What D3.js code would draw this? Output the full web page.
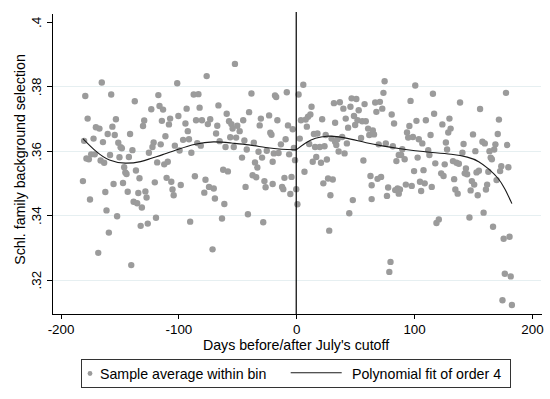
<!DOCTYPE html>
<html lang="en">
<head>
<meta charset="utf-8">
<title>Schl. family background selection</title>
<script src="https://cdn.jsdelivr.net/npm/d3@7"></script>
<style>
  body { margin: 0; background: #fff; }
  svg { display: block; font-family: "Liberation Sans", Arial, sans-serif; }
  .axis path, .axis line { fill: none; stroke: #000; shape-rendering: crispEdges; }
  .axis text { font-size: 13.4px; fill: #000; }
</style>
</head>
<body>
<script>

// bin averages (day relative to cutoff, sample mean)
var binDays = [
  -165,-179,-157,-137,-177,-153,-129,-170,-167,-156,-130,-160,-154,-141,-172,-180,-164,-151,-149,-148,
  -139,-174,-171,-178,-176,-158,-150,-142,-166,-163,-146,-136,-145,-144,-133,-181,-155,-147,-162,-143,
  -134,-128,-127,-138,-135,-131,-175,-161,-152,-132,-159,-168,-140,
  -101,-76,-117,-87,-83,-123,-116,-113,-93,-82,-66,-114,-107,-100,-108,-94,-85,-80,-73,-75,
  -67,-92,-68,-111,-121,-122,-115,-96,-103,-91,-84,-81,-65,-125,-99,-89,-118,-112,-109,-110,
  -86,-77,-106,-120,-98,-74,-70,-105,-104,-78,-69,-126,-119,-90,-71,
  -52,-38,-18,-17,-8,-59,-57,-55,-50,-40,-45,-30,-23,-16,-31,-48,-54,-56,-51,-44,
  -36,-22,-21,-7,-3,-9,-13,-60,-53,-42,-32,-25,-19,-15,-6,-2,-46,-29,-1,-35,
  -33,-20,-62,-58,-37,-34,-27,-26,-20,-10,-4,-12,-11,0,-5,-43,-61,1,-63,-41,-28,
  6,2,13,32,37,47,51,58,40,46,53,10,12,8,4,22,33,42,49,52,
  56,59,50,44,9,61,15,18,25,3,62,11,30,33,35,39,43,55,16,20,
  24,34,36,41,17,14,21,26,57,7,27,31,23,63,29,48,45,28,
  75,74,101,116,97,67,71,73,68,81,117,83,65,66,96,102,110,94,95,99,
  104,107,114,70,76,82,90,112,113,89,87,92,85,103,118,100,108,72,69,64,
  78,86,88,84,87,93,98,105,109,106,115,64,77,119,121,80,79,
  178,139,156,130,124,131,129,172,150,171,127,128,142,158,160,169,179,152,141,164,
  168,165,166,126,133,136,138,144,145,143,155,153,174,180,173,163,123,125,134,149,
  151,162,161,170,135,137,148,154,147,159,167,176,181,177,182,175,183
];
var binMeans = [
  .3812,.3770,.3775,.3754,.3700,.3698,.3694,.3673,.3669,.3675,.3677,.3652,.3649,.3652,.3638,.3631,.3627,.3625,.3611,.3608,
  .3602,.3589,.3589,.3576,.3574,.3587,.3580,.3581,.3570,.3563,.3549,.3539,.3533,.3528,.3515,.3506,.3497,.3500,.3472,.3473,
  .3469,.3474,.3455,.3442,.3437,.3424,.3449,.3415,.3397,.3367,.3346,.3283,.3245,
  .3810,.3832,.3773,.3775,.3776,.3729,.3739,.3728,.3731,.3734,.3741,.3693,.3700,.3708,.3682,.3685,.3695,.3695,.3698,.3683,
  .3678,.3661,.3654,.3645,.3626,.3612,.3620,.3634,.3616,.3636,.3624,.3616,.3630,.3594,.3601,.3594,.3564,.3558,.3566,.3516,
  .3521,.3510,.3504,.3502,.3494,.3488,.3483,.3480,.3462,.3470,.3452,.3374,.3392,.3380,.3294,
  .3870,.3778,.3772,.3767,.3782,.3715,.3692,.3683,.3678,.3720,.3695,.3700,.3710,.3695,.3679,.3661,.3669,.3642,.3641,.3632,
  .3625,.3656,.3650,.3679,.3667,.3636,.3620,.3612,.3612,.3604,.3597,.3600,.3592,.3593,.3589,.3609,.3579,.3579,.3571,.3564,
  .3548,.3566,.3541,.3536,.3524,.3518,.3506,.3487,.3497,.3516,.3519,.3488,.3481,.3481,.3466,.3488,.3435,.3434,.3390,.3403,.3378,
  .3805,.3775,.3737,.3748,.3751,.3763,.3761,.3745,.3731,.3737,.3726,.3706,.3713,.3697,.3695,.3698,.3687,.3700,.3708,.3695,
  .3692,.3692,.3680,.3672,.3675,.3669,.3652,.3654,.3649,.3638,.3649,.3621,.3638,.3628,.3636,.3643,.3623,.3640,.3612,.3612,
  .3614,.3618,.3598,.3592,.3581,.3566,.3563,.3573,.3570,.3535,.3514,.3511,.3499,.3522,.3462,.3447,.3406,.3352,
  .3816,.3780,.3803,.3777,.3755,.3750,.3752,.3731,.3721,.3713,.3715,.3685,.3663,.3651,.3677,.3693,.3695,.3657,.3641,.3643,
  .3636,.3623,.3649,.3620,.3623,.3614,.3605,.3602,.3587,.3587,.3587,.3574,.3568,.3579,.3561,.3537,.3540,.3519,.3513,.3493,
  .3486,.3483,.3480,.3478,.3467,.3495,.3491,.3504,.3499,.3475,.3488,.3450,.3460,.3376,.3387,.3255,.3224,
  .3780,.3750,.3730,.3700,.3682,.3669,.3657,.3697,.3651,.3652,.3626,.3604,.3621,.3628,.3623,.3620,.3618,.3599,.3594,.3599,
  .3604,.3579,.3574,.3558,.3568,.3563,.3560,.3545,.3527,.3530,.3538,.3533,.3552,.3549,.3537,.3535,.3530,.3522,.3512,.3506,
  .3495,.3495,.3480,.3509,.3480,.3467,.3477,.3462,.3393,.3408,.3364,.3327,.3333,.3218,.3210,.3136,.3121
];

// polynomial fit, one piece each side of the cutoff
var fitLeftDays = [-181,-170,-159,-145,-131,-124,-114,-100,-86,-70,-55,-40,-26,-12,0];
var fitLeftVals = [.3638,.3597,.3568,.3559,.3566,.3576,.3587,.3605,.3622,.3630,.3624,.3619,.3610,.3604,.3603];
var fitRightDays = [0,8,16,26,36,47,59,73,87,101,115,132,146,155,163,172,177,183];
var fitRightVals = [.3603,.3626,.3640,.3647,.3644,.3636,.3625,.3615,.3607,.3600,.3595,.3590,.3581,.3568,.3545,.3514,.3483,.3436];

var xTicks = [-200, -100, 0, 100, 200];
var yTicks = [.32, .34, .36, .38, .4];
var gridTicks = [.32, .34, .36, .38];

var W = 550, H = 399;
var plotL = 51.7, plotR = 541, plotT = 13, plotB = 314;

var xScale = d3.scaleLinear().domain([-207.5, 207.7]).range([plotL, plotR]);
var yScale = d3.scaleLinear().domain([.30932, .4028]).range([plotB, plotT]);

var svg = d3.select("body").append("svg")
  .attr("width", W)
  .attr("height", H);

svg.append("rect").attr("width", W).attr("height", H).attr("fill", "#fff");

// grid
svg.append("g").selectAll("line")
  .data(gridTicks)
  .enter().append("line")
  .attr("x1", plotL).attr("x2", plotR)
  .attr("y1", function(d) { return Math.round(yScale(d)) + 0.5; })
  .attr("y2", function(d) { return Math.round(yScale(d)) + 0.5; })
  .attr("stroke", "#e6eff1")
  .attr("stroke-width", 1);

// points
var pts = binDays.map(function(d, i) { return [d, binMeans[i]]; });
svg.append("g").selectAll("circle")
  .data(pts)
  .enter().append("circle")
  .attr("cx", function(d) { return xScale(d[0]); })
  .attr("cy", function(d) { return yScale(d[1]); })
  .attr("r", 3.2)
  .attr("fill", "#9b9b9b");

// fit
var line = d3.line()
  .x(function(d) { return xScale(d[0]); })
  .y(function(d) { return yScale(d[1]); })
  .curve(d3.curveBasis);

[[fitLeftDays, fitLeftVals], [fitRightDays, fitRightVals]].forEach(function(s) {
  svg.append("path")
    .datum(s[0].map(function(d, i) { return [d, s[1][i]]; }))
    .attr("d", line)
    .attr("fill", "none")
    .attr("stroke", "#1a1a1a")
    .attr("stroke-width", 1.1);
});

// cutoff line
svg.append("line")
  .attr("x1", xScale(0)).attr("x2", xScale(0))
  .attr("y1", plotT - 1).attr("y2", plotB)
  .attr("stroke", "#000")
  .attr("stroke-width", 1.2);

// axes
var xAxis = d3.axisBottom(xScale).tickValues(xTicks).tickSize(5).tickSizeOuter(0)
  .tickFormat(function(d) { return String(d); });
var yAxis = d3.axisLeft(yScale).tickValues(yTicks).tickSize(5).tickSizeOuter(0)
  .tickFormat(function(d) { return String(d).replace(/^0/, ""); });

svg.append("g")
  .attr("class", "axis")
  .attr("transform", "translate(0," + plotB + ")")
  .call(xAxis)
  .selectAll("text")
  .attr("y", 20.3).attr("dy", 0);

svg.append("g")
  .attr("class", "axis")
  .attr("transform", "translate(" + plotL + ",0)")
  .call(yAxis)
  .selectAll("text")
  .attr("x", 0).attr("dy", 0)
  .attr("text-anchor", "middle")
  .attr("transform", "translate(-11.2,0) rotate(-90)");

// titles
svg.append("text")
  .attr("x", 296).attr("y", 350.4)
  .attr("text-anchor", "middle")
  .attr("font-size", "14.2px")
  .text("Days before/after July's cutoff");

svg.append("text")
  .attr("transform", "translate(25,159.5) rotate(-90)")
  .attr("text-anchor", "middle")
  .attr("font-size", "14.2px")
  .text("Schl. family background selection");

// legend
var lg = svg.append("g");
lg.append("rect")
  .attr("x", 81.5).attr("y", 359.5)
  .attr("width", 429).attr("height", 28)
  .attr("fill", "#fff")
  .attr("stroke", "#333")
  .attr("stroke-width", 1);
lg.append("circle")
  .attr("cx", 90).attr("cy", 373.5).attr("r", 2.4)
  .attr("fill", "#9b9b9b");
lg.append("text")
  .attr("x", 100).attr("y", 378.6)
  .attr("font-size", "14.2px")
  .text("Sample average within bin");
lg.append("line")
  .attr("x1", 290.7).attr("x2", 341.7)
  .attr("y1", 372.8).attr("y2", 372.8)
  .attr("stroke", "#1a1a1a")
  .attr("stroke-width", 1.1);
lg.append("text")
  .attr("x", 352).attr("y", 378.6)
  .attr("font-size", "14.2px")
  .text("Polynomial fit of order 4");

</script>
</body>
</html>
